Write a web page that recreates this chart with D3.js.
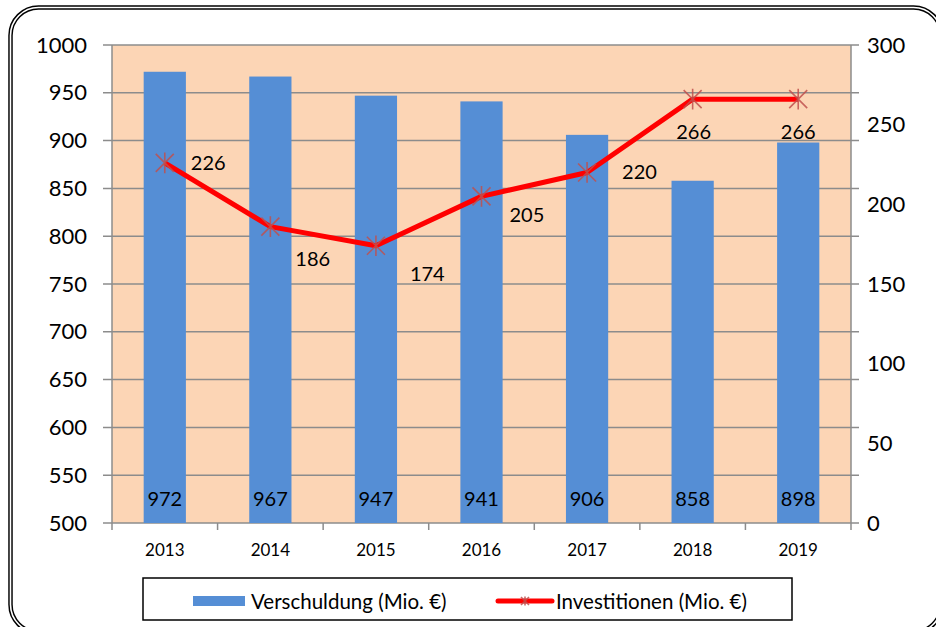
<!DOCTYPE html>
<html>
<head>
<meta charset="utf-8">
<script src="https://cdn.jsdelivr.net/npm/d3@7"></script>
<style>
  body { margin: 0; background: #fff; }
  svg text { font-family: Lato, "Open Sans", sans-serif; fill: #000; }
</style>
</head>
<body>
<svg id="chart" width="936" height="627"></svg>
<script>
const years = ['2013', '2014', '2015', '2016', '2017', '2018', '2019'];
const debt = [972, 967, 947, 941, 906, 858, 898];
const invest = [226, 186, 174, 205, 220, 266, 266];
const leftTicks = [500, 550, 600, 650, 700, 750, 800, 850, 900, 950, 1000];
const rightTicks = [0, 50, 100, 150, 200, 250, 300];
// label offset for the line values (dx, dy from the point)
const investLabelPos = [[26, 0], [25, 32], [34, 28], [28, 19], [35, 0], [1, 33], [0, 33]];

const svg = d3.select('#chart');
const m = { left: 112, right: 851, top: 45, bottom: 523 };

// outer frame (double line)
svg.append('rect').attr('x', 10.5).attr('y', 7.5).attr('width', 931).attr('height', 625)
  .attr('rx', 28).attr('fill', 'none').attr('stroke', '#000').attr('stroke-width', 4.5);
svg.append('rect').attr('x', 10.5).attr('y', 7.5).attr('width', 931).attr('height', 625)
  .attr('rx', 28).attr('fill', 'none').attr('stroke', '#fff').attr('stroke-width', 1.6);

const x = d3.scaleBand().domain(years).range([m.left, m.right]).paddingInner(0.6).paddingOuter(0.3);
const xb = d3.scaleBand().domain(years).range([m.left, m.right]);
const yL = d3.scaleLinear().domain([500, 1000]).range([m.bottom, m.top]);
const yR = d3.scaleLinear().domain([0, 300]).range([m.bottom, m.top]);

svg.append('rect').attr('x', m.left).attr('y', m.top)
  .attr('width', m.right - m.left).attr('height', m.bottom - m.top).attr('fill', '#FCD5B5');

// gridlines
svg.append('g').selectAll('line').data(leftTicks).join('line')
  .attr('x1', m.left - 9).attr('x2', m.right + 8)
  .attr('y1', d => yL(d)).attr('y2', d => yL(d))
  .attr('stroke', '#8c8c8c').attr('stroke-width', 1.5);

// axes lines
svg.append('line').attr('x1', m.left).attr('x2', m.left).attr('y1', m.top).attr('y2', m.bottom + 7)
  .attr('stroke', '#8c8c8c').attr('stroke-width', 1.5);
svg.append('line').attr('x1', m.right).attr('x2', m.right).attr('y1', m.top).attr('y2', m.bottom + 7)
  .attr('stroke', '#8c8c8c').attr('stroke-width', 1.5);
svg.append('g').selectAll('line').data(years.slice(1)).join('line')
  .attr('x1', d => xb(d)).attr('x2', d => xb(d))
  .attr('y1', m.bottom).attr('y2', m.bottom + 7)
  .attr('stroke', '#8c8c8c').attr('stroke-width', 1.5);

// bars
svg.append('g').selectAll('rect').data(debt).join('rect')
  .attr('x', (d, i) => x(years[i])).attr('width', x.bandwidth())
  .attr('y', d => yL(d)).attr('height', d => yL(500) - yL(d))
  .attr('fill', '#558ED5');
svg.append('g').selectAll('text').data(debt).join('text')
  .attr('x', (d, i) => x(years[i]) + x.bandwidth() / 2).attr('y', m.bottom - 17)
  .attr('text-anchor', 'middle').attr('font-size', 20).text(d => d);

// tick labels
svg.append('g').selectAll('text').data(leftTicks).join('text')
  .attr('x', 87).attr('y', d => yL(d) + 7.5).attr('text-anchor', 'end')
  .attr('font-size', 22).text(d => d);
svg.append('g').selectAll('text').data(rightTicks).join('text')
  .attr('x', 867).attr('y', d => yR(d) + 7.5).attr('text-anchor', 'start')
  .attr('font-size', 22).text(d => d);
svg.append('g').selectAll('text').data(years).join('text')
  .attr('x', d => xb(d) + xb.bandwidth() / 2).attr('y', m.bottom + 33)
  .attr('text-anchor', 'middle').attr('font-size', 17).text(d => d);

// line
const cx = i => xb(years[i]) + xb.bandwidth() / 2;
const line = d3.line().x((d, i) => cx(i)).y(d => yR(d));
svg.append('path').datum(invest).attr('d', line)
  .attr('fill', 'none').attr('stroke', '#FF0000').attr('stroke-width', 5).attr('stroke-linejoin', 'round');

const star = (g, s) => {
  g.append('path')
    .attr('d', `M${-s},${-s}L${s},${s}M${-s},${s}L${s},${-s}M0,${-s * 1.15}L0,${s * 1.15}`)
    .attr('stroke', '#C0504D').attr('stroke-opacity', 0.85).attr('stroke-width', 1.6).attr('fill', 'none');
};
svg.append('g').selectAll('g').data(invest).join('g')
  .attr('transform', (d, i) => `translate(${cx(i)},${yR(d)})`)
  .each(function () { star(d3.select(this), 9); });

svg.append('g').selectAll('text').data(invest).join('text')
  .attr('x', (d, i) => cx(i) + investLabelPos[i][0])
  .attr('y', (d, i) => yR(d) + investLabelPos[i][1] + 7)
  .attr('text-anchor', (d, i) => investLabelPos[i][0] < 10 ? 'middle' : 'start')
  .attr('font-size', 20).text(d => d);

// legend
const lg = svg.append('g');
lg.append('rect').attr('x', 143).attr('y', 578).attr('width', 649).attr('height', 42)
  .attr('fill', '#fff').attr('stroke', '#000').attr('stroke-width', 1.5);
lg.append('rect').attr('x', 193).attr('y', 596).attr('width', 52).attr('height', 10).attr('fill', '#558ED5');
lg.append('text').attr('x', 251).attr('y', 609).attr('font-size', 20.5).text('Verschuldung (Mio. €)');
lg.append('line').attr('x1', 498).attr('x2', 552).attr('y1', 601).attr('y2', 601)
  .attr('stroke', '#FF0000').attr('stroke-width', 5).attr('stroke-linecap', 'round');
star(lg.append('g').attr('transform', 'translate(525,601)'), 4);
lg.append('text').attr('x', 556).attr('y', 609).attr('font-size', 20.5).text('Investitionen (Mio. €)');
</script>
</body>
</html>
